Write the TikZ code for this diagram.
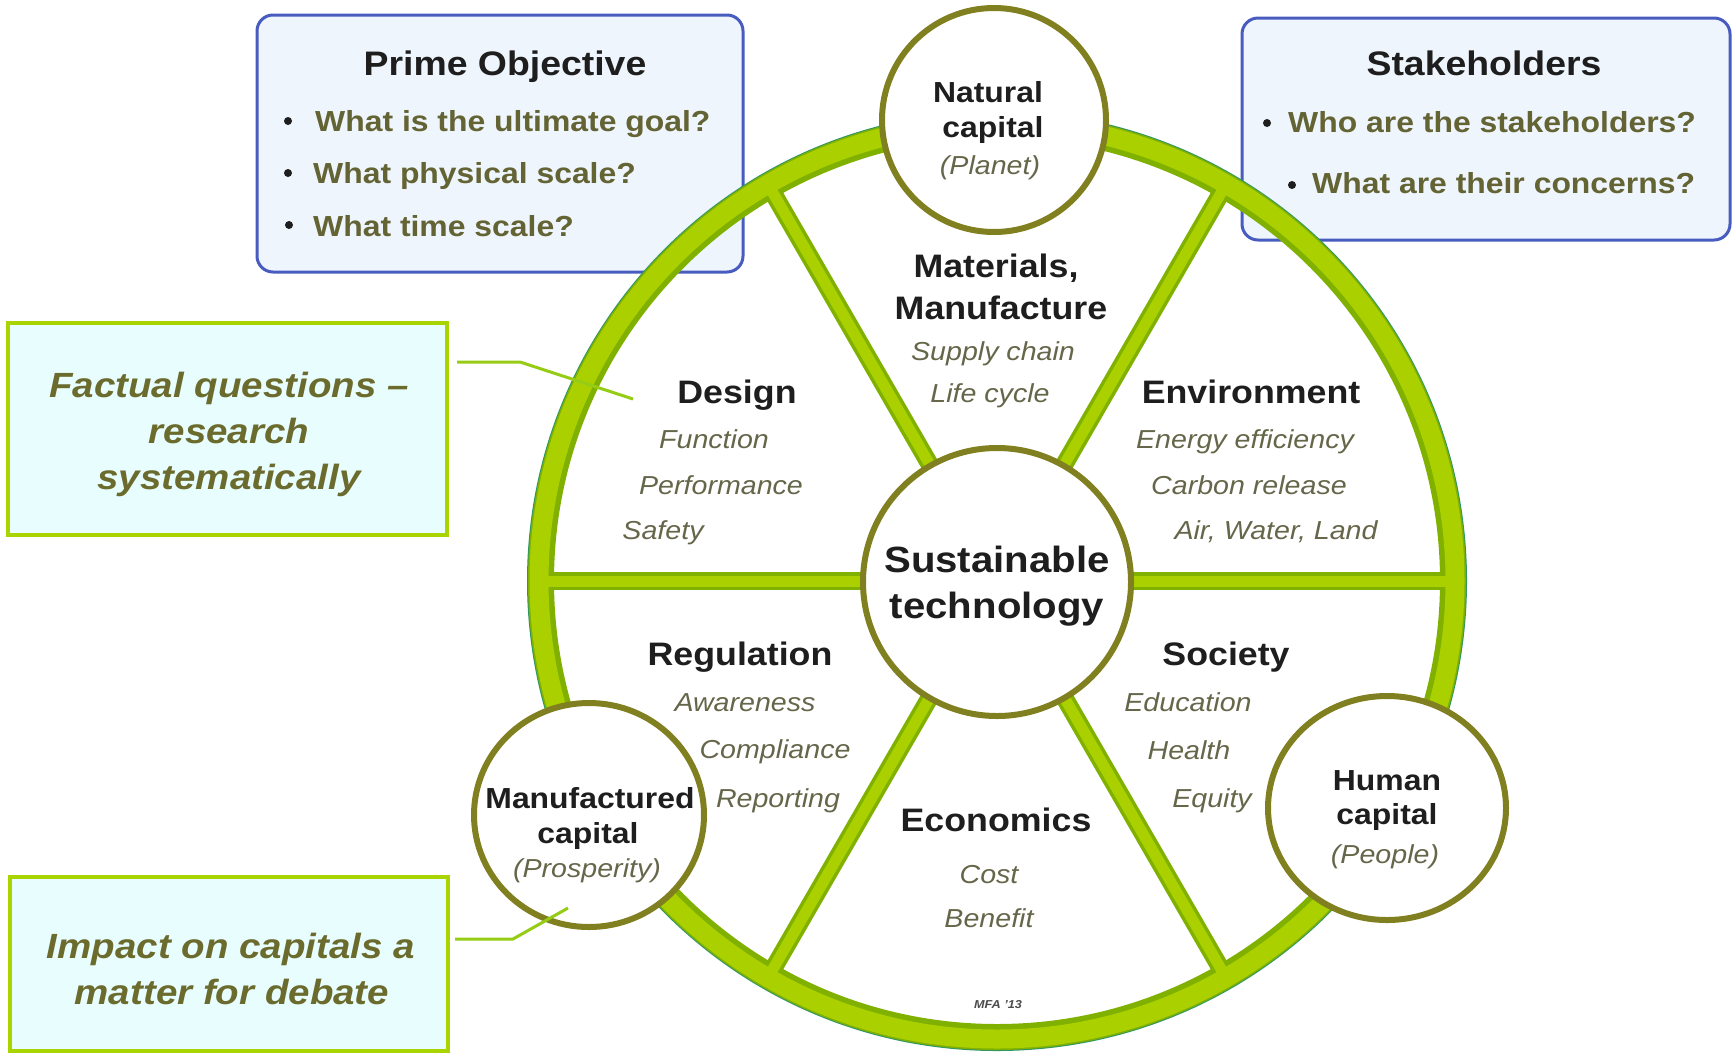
\documentclass[tikz,border=0pt]{standalone}
\usepackage{fontspec}
\setmainfont{Liberation Sans}[FakeStretch=1.1]
\usetikzlibrary{shapes.geometric}
\newcommand\myfs[1]{\fontsize{#1}{#1}\selectfont}
\definecolor{boxblue}{RGB}{72,92,192}
\definecolor{boxbluefill}{RGB}{238,245,252}
\definecolor{boxgreen}{RGB}{170,212,0}
\definecolor{boxgreenfill}{RGB}{232,254,254}
\definecolor{connc}{RGB}{150,204,20}
\definecolor{ringlight}{RGB}{170,208,0}
\definecolor{ringdark}{RGB}{128,176,0}
\definecolor{ringedge}{RGB}{46,150,100}
\definecolor{olive}{RGB}{128,128,32}
\definecolor{titlec}{RGB}{30,30,30}
\definecolor{bulc}{RGB}{99,99,52}
\definecolor{notec}{RGB}{107,107,46}
\definecolor{itemc}{RGB}{102,102,74}
\begin{document}
\begin{tikzpicture}[x=1pt,y=-1pt,
  bluebox/.style={draw=boxblue, fill=boxbluefill, line width=3, rounded corners=16, inner sep=0},
  greenbox/.style={draw=boxgreen, fill=boxgreenfill, line width=4, inner sep=0},
  capcircle/.style={draw=olive, fill=white, line width=6, inner sep=0},
  conn/.style={draw=connc, line width=3},
  titletext/.style={font=\myfs{34}\bfseries, text=titlec, inner sep=0, anchor=base},
  bultext/.style={font=\myfs{29}\bfseries, text=bulc, inner sep=0, anchor=base west},
  headtext/.style={font=\myfs{32.5}\bfseries, text=titlec, inner sep=0, anchor=base},
  itemtext/.style={font=\myfs{26}\itshape, text=itemc, inner sep=0, anchor=base},
  notetext/.style={font=\myfs{35}\bfseries\itshape, text=notec, inner sep=0, anchor=base},
  captext/.style={font=\myfs{29}\bfseries, text=titlec, inner sep=0, anchor=base},
  bulletdot/.style={fill=titlec}
]
\useasboundingbox (0,0) rectangle (1736,1053);
\fill[white] (0,0) rectangle (1736,1053);

% boxes
\node[bluebox, minimum width=486, minimum height=257] (prime) at (500,143.5) {};
\node[bluebox, minimum width=488, minimum height=222] (stake) at (1486,129) {};
\node[greenbox, minimum width=439, minimum height=212] (factual) at (227.5,429) {};
\node[greenbox, minimum width=438, minimum height=174] (impact) at (229,964) {};

% wheel
\coordinate (C) at (997,581);
\draw[ringedge, line width=2] (C) circle[radius=469];
\draw[ringdark, line width=26] (C) circle[radius=456];
\foreach \a in {0,60,120,180,240,300} \draw[ringdark, line width=18] (C) -- ++(\a:450);
\draw[ringlight, line width=19] (C) circle[radius=458];
\foreach \a in {0,60,120,180,240,300} \draw[ringlight, line width=11] (C) -- ++(\a:452);

% capital circles
\node[capcircle, circle, minimum size=268] (st) at (997,582) {};
\node[capcircle, circle, minimum size=224] (nat) at (994,120) {};
\node[capcircle, ellipse, minimum width=230, minimum height=224] (man) at (589,815) {};
\node[capcircle, ellipse, minimum width=238, minimum height=224] (hum) at (1387,808) {};

% Prime objective box text
\node[titletext] (primet) at (505,75) {Prime Objective};
\fill[bulletdot] (288,121) circle[radius=4];
\fill[bulletdot] (288,173) circle[radius=4];
\fill[bulletdot] (289,225) circle[radius=4];
\node[bultext] (p1) at (315,131) {What is the ultimate goal?};
\node[bultext] (p2) at (313,183) {What physical scale?};
\node[bultext] (p3) at (313,236) {What time scale?};

% Stakeholders box text
\node[titletext] (staket) at (1484,75) {Stakeholders};
\fill[bulletdot] (1267,123) circle[radius=4];
\fill[bulletdot] (1292,185) circle[radius=4];
\node[bultext] (s1) at (1288,132) {Who are the stakeholders?};
\node[bultext] (s2) at (1312,193) {What are their concerns?};

% note boxes text
\node[notetext] (f1) at (229,397) {Factual questions --};
\node[notetext] (f2) at (229,443) {research};
\node[notetext] (f3) at (229,489) {systematically};
\node[notetext] (i1) at (231,958) {Impact on capitals a};
\node[notetext] (i2) at (232,1004) {matter for debate};

% centre
\node[font=\myfs{36.5}\bfseries, text=titlec, inner sep=0, anchor=base] (st1) at (997,572) {Sustainable};
\node[font=\myfs{36.5}\bfseries, text=titlec, inner sep=0, anchor=base] (st2) at (997,618) {technology};

% capitals
\node[captext] (nat1) at (988,102) {Natural};
\node[captext] (nat2) at (993,137) {capital};
\node[itemtext] (nat3) at (990,174) {(Planet)};
\node[captext] (man1) at (590,808) {Manufactured};
\node[captext] (man2) at (588,843) {capital};
\node[itemtext] (man3) at (587,877) {(Prosperity)};
\node[captext] (hum1) at (1387,790) {Human};
\node[captext] (hum2) at (1387,824) {capital};
\node[itemtext] (hum3) at (1385,863) {(People)};

% sectors
\node[headtext] (mat1) at (996,277) {Materials,};
\node[headtext] (mat2) at (1001,319) {Manufacture};
\node[itemtext] (mat3) at (993,360) {Supply chain};
\node[itemtext] (mat4) at (990,402) {Life cycle};

\node[headtext] (des1) at (737,403) {Design};
\node[itemtext] (des2) at (714,448) {Function};
\node[itemtext] (des3) at (721,494) {Performance};
\node[itemtext] (des4) at (663,539) {Safety};

\node[headtext] (env1) at (1251,403) {Environment};
\node[itemtext] (env2) at (1245,448) {Energy efficiency};
\node[itemtext] (env3) at (1249,494) {Carbon release};
\node[itemtext] (env4) at (1276,539) {Air, Water, Land};

\node[headtext] (reg1) at (740,665) {Regulation};
\node[itemtext] (reg2) at (745,711) {Awareness};
\node[itemtext] (reg3) at (775,758) {Compliance};
\node[itemtext] (reg4) at (778,807) {Reporting};

\node[headtext] (soc1) at (1226,665) {Society};
\node[itemtext] (soc2) at (1188,711) {Education};
\node[itemtext] (soc3) at (1189,759) {Health};
\node[itemtext] (soc4) at (1212,807) {Equity};

\node[headtext] (eco1) at (996,831) {Economics};
\node[itemtext] (eco2) at (989,883) {Cost};
\node[itemtext] (eco3) at (989,927) {Benefit};

\node[font=\myfs{11.5}\bfseries\itshape, text=titlec!80, inner sep=0, anchor=base] (mfa) at (998,1008) {MFA '13};

% connectors
\coordinate (fk) at (520,362);
\coordinate (fe) at (633,399);
\draw[conn] ([xshift=8]factual.east |- fk) -- (fk) -- (fe);
\coordinate (ik) at (513,939);
\coordinate (ie) at (568,908);
\draw[conn] ([xshift=5]impact.east |- ik) -- (ik) -- (ie);
\end{tikzpicture}
\end{document}
